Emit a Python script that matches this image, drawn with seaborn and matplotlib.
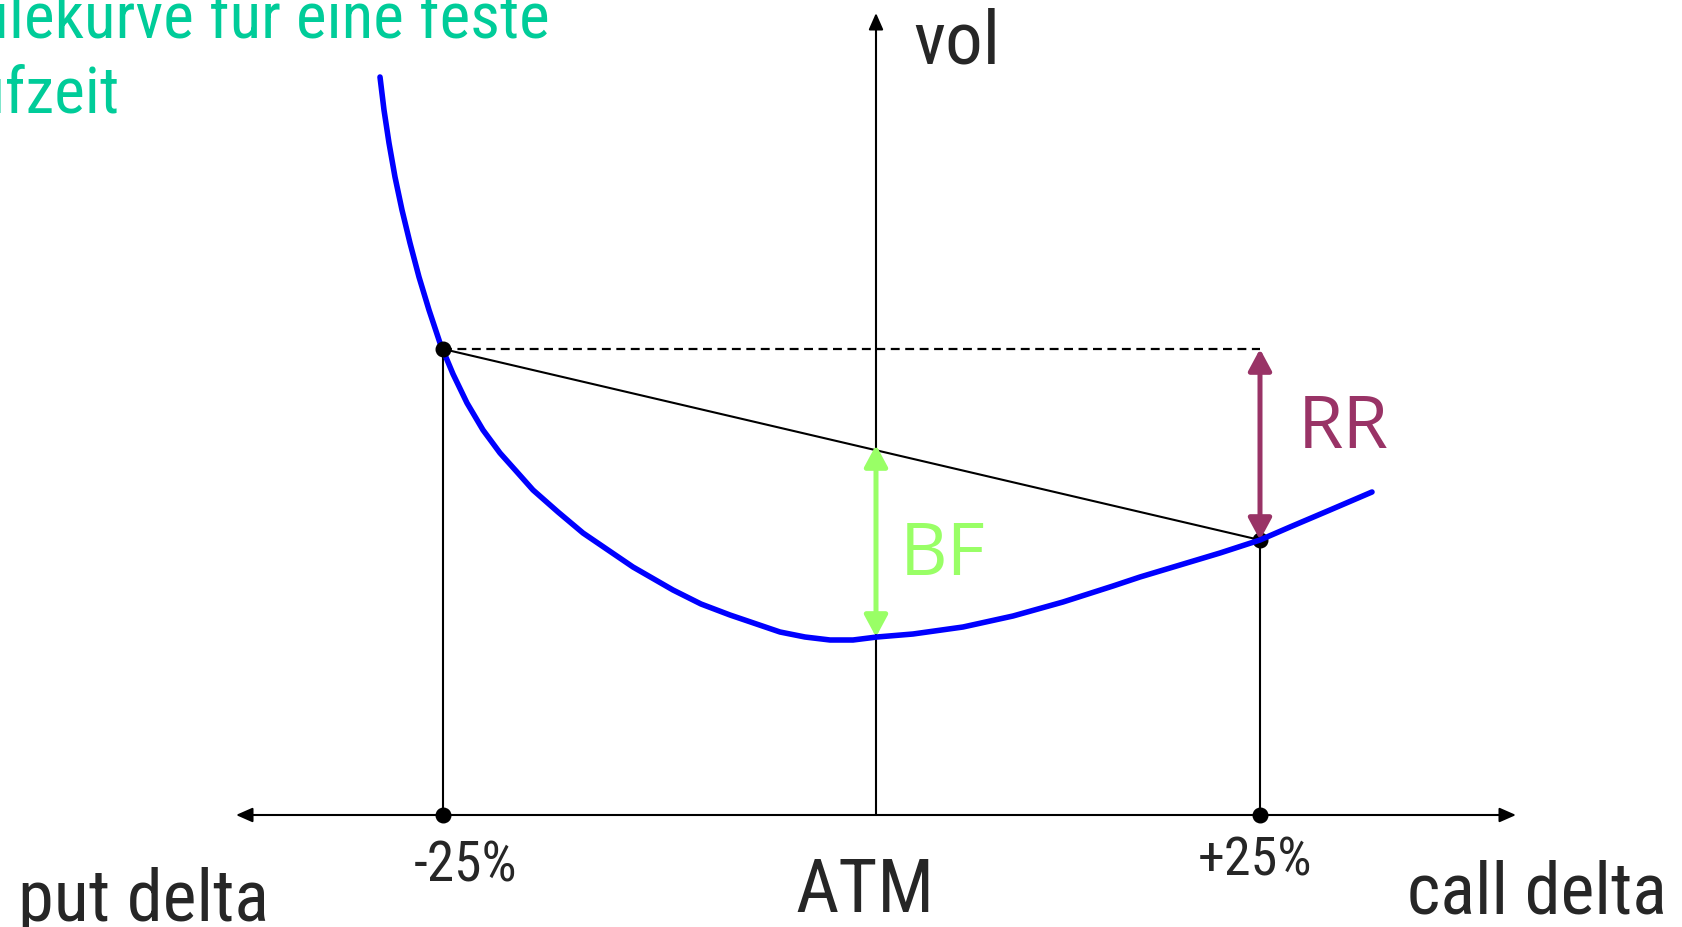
"""
Smile curve sketch: risk reversal (RR) and butterfly (BF) read off a
volatility smile for one fixed expiry, plotted against delta.
"""
import pandas as pd
import matplotlib.pyplot as plt
import seaborn as sns

sns.set_style("white")
narrow = ["Liberation Sans Narrow", "Roboto Condensed", "DejaVu Sans"]
plt.rcParams["font.family"] = narrow

# delta positions on the horizontal axis (ATM = 0)
delta_labels = ["-25%", "ATM", "+25%"]
delta_pos = [-433, 0, 384]

# smile curve
smile_delta = [-496, -492, -487, -481, -474, -466, -457, -447, -436, -423,
               -409, -393, -376, -359, -343, -318, -293, -268, -243, -203,
               -175, -146, -96, -71, -46, -23, 1, 37, 87, 137,
               187, 237, 264, 304, 344, 384, 414, 454, 496]
smile_vol = [738, 705, 672, 638, 605, 572, 538, 505, 472, 441,
             412, 385, 362, 343, 325, 303, 282, 265, 248, 225,
             211, 200, 183, 178, 175, 175, 178, 181, 188, 199,
             213, 229, 238, 250, 262, 275, 288, 305, 323]

# vols at the 25 delta points and the ATM vol
vol_put25 = 466
vol_call25 = 275
vol_atm = 178
vol_mid = 370  # straight line between the wings at ATM

axis_x = (-640, 640)
axis_top = 802

smile = pd.DataFrame({"delta": smile_delta, "vol": smile_vol})

fig = plt.figure(figsize=(16.83, 9.27), dpi=100)
ax = fig.add_axes([0, 0, 1, 1])
ax.set_xlim(-876, 807)
ax.set_ylim(-112, 815)
ax.axis("off")

def arrow(x0, y0, x1, y1, color, lw, style):
    ax.annotate("", xy=(x1, y1), xytext=(x0, y0),
                arrowprops=dict(arrowstyle=style, color=color, lw=lw,
                                shrinkA=0, shrinkB=0, mutation_scale=20),
                zorder=4)

# axes with arrow heads
arrow(axis_x[0], 0, axis_x[1], 0, "black", 1.5, "<|-|>,head_length=0.5,head_width=0.22")
arrow(0, 0, 0, axis_top, "black", 1.5, "-|>,head_length=0.5,head_width=0.22")

# vertical guides at the 25 delta points
ax.plot([delta_pos[0]] * 2, [0, vol_put25], color="black", lw=1.5, zorder=2)
ax.plot([delta_pos[2]] * 2, [0, vol_call25], color="black", lw=1.5, zorder=2)

# chord between the wings and dashed level of the put wing
ax.plot([delta_pos[0], delta_pos[2]], [vol_put25, vol_call25], color="black", lw=1.5, zorder=2)
ax.plot([delta_pos[0], delta_pos[2]], [vol_put25, vol_put25], color="black", lw=1.6,
        linestyle=(0, (4, 2.5)), zorder=2)

sns.lineplot(data=smile, x="delta", y="vol", sort=False, color="#0000FF", lw=4,
             ax=ax, zorder=5, solid_joinstyle="round")

# dots
ax.plot([delta_pos[0]], [vol_put25], "o", color="black", ms=10.5, zorder=6)
ax.plot([delta_pos[2]], [vol_call25], "o", color="black", ms=10.5, zorder=3)
ax.plot([delta_pos[0], delta_pos[2]], [0, 0], "o", color="black", ms=10.5, zorder=6)

# RR and BF arrows
arrow(delta_pos[2], vol_put25, delta_pos[2], vol_call25, "#993366", 3.6,
      "<|-|>,head_length=0.65,head_width=0.35")
arrow(0, vol_mid, 0, vol_atm, "#99FF66", 3.6,
      "<|-|>,head_length=0.65,head_width=0.35")
ax.text(422, 367, "RR", color="#993366", fontsize=53, family=["Open Sans", "DejaVu Sans"],
        ha="left", va="baseline")
ax.text(24, 240, "BF", color="#99FF66", fontsize=53, family=["Open Sans", "DejaVu Sans"],
        ha="left", va="baseline")

# axis texts
ax.text(37, 752, "vol", fontsize=54, ha="left", va="baseline")
ax.text(-858, -106, "put delta", fontsize=52, ha="left", va="baseline")
ax.text(791, -99, "call delta", fontsize=52, ha="right", va="baseline")
ax.text(-11, -97, delta_labels[1], fontsize=54, ha="center", va="baseline")
ax.text(-410, -67, delta_labels[0], fontsize=40, ha="center", va="baseline")
ax.text(379, -60, delta_labels[2], fontsize=39, ha="center", va="baseline")

ax.text(-326, 703, "Smilekurve für eine feste\nLaufzeit", color="#00CC99", fontsize=47,
        ha="right", va="baseline", multialignment="left", linespacing=1.25)

plt.savefig("out.png", dpi=100)
